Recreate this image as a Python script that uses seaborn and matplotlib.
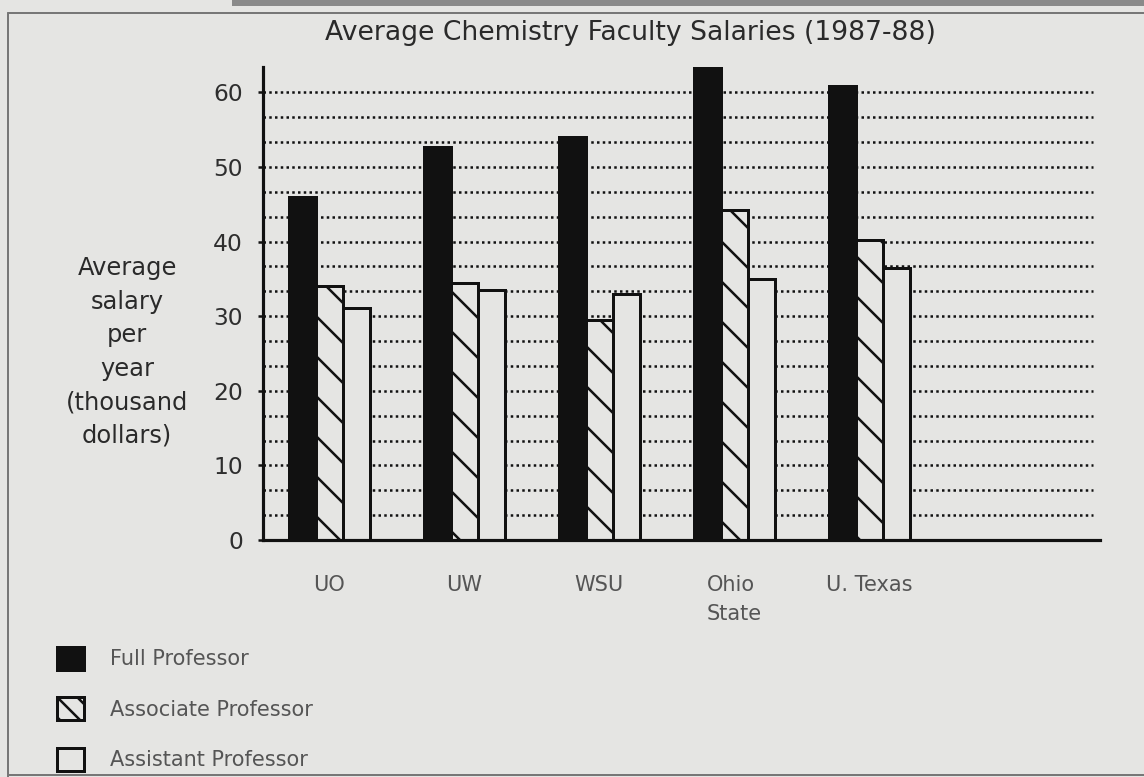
import numpy as np
import pandas as pd
import matplotlib
matplotlib.use("Agg")
import matplotlib.pyplot as plt
import seaborn as sns
from matplotlib.patches import Patch, Rectangle
from matplotlib.lines import Line2D

# ---------------- data ----------------
schools = ["UO", "UW", "WSU", "Ohio\nState", "U. Texas"]
ranks = ["Full Professor", "Associate Professor", "Assistant Professor"]
full_prof = [46.0, 52.7, 54.0, 63.2, 60.8]
assoc_prof = [34.0, 34.5, 29.5, 44.2, 40.2]
asst_prof = [31.1, 33.5, 33.0, 35.0, 36.4]
y_ticks = [0, 10, 20, 30, 40, 50, 60]
title = "Average Chemistry Faculty Salaries (1987-88)"
y_label = "Average\nsalary\nper\nyear\n(thousand\ndollars)"

df = pd.DataFrame({
    "school": schools * 3,
    "rank": [ranks[0]] * 5 + [ranks[1]] * 5 + [ranks[2]] * 5,
    "salary": full_prof + assoc_prof + asst_prof,
})

# ---------------- style ----------------
BG = "#e5e5e3"
INK = "#111111"
sns.set_theme(style="white")
plt.rcParams["font.family"] = ["DejaVu Sans"]
plt.rcParams["hatch.linewidth"] = 1.5
plt.rcParams["hatch.color"] = INK

W, H, DPI = 1144, 777, 120
fig = plt.figure(figsize=(W / DPI, H / DPI), dpi=DPI, facecolor=BG)
ax = fig.add_axes([263 / W, 1 - 540 / H, (1100 - 263) / W, (540 - 67) / H])
ax.set_facecolor(BG)

sns.barplot(data=df, x="school", y="salary", hue="rank", hue_order=ranks,
            order=schools, palette=[INK, BG, BG], saturation=1, width=0.6,
            edgecolor=INK, linewidth=1.8, legend=False, ax=ax, zorder=2)

for i, cont in enumerate(ax.containers):
    for p in cont.patches:
        if i == 1:
            p.set_hatch("\\")

# dotted gridlines every 10/3 units
grid_y = np.arange(1, 19) * 10 / 3
ax.hlines(grid_y, 0, 0.992, transform=ax.get_yaxis_transform(),
          colors=INK, linewidth=1.5, linestyles=(0, (1, 1.3)), zorder=1)

ax.set_ylim(0, 63.4)
ax.set_xlim(-0.49, 5.71)
ax.set_yticks(y_ticks)
ax.set_xlabel("")
ax.set_ylabel("")
for s in ["top", "right"]:
    ax.spines[s].set_visible(False)
for s in ["left", "bottom"]:
    ax.spines[s].set_color(INK)
    ax.spines[s].set_linewidth(1.9)
ax.tick_params(axis="y", length=3, width=1.5, color=INK, pad=9,
               labelsize=14, labelcolor="#2e2e2e", left=True)
ax.tick_params(axis="x", length=0, pad=21, labelsize=12.5, labelcolor="#555555")
for lab in ax.get_xticklabels():
    lab.set_multialignment("left")
    lab.set_linespacing(1.55)

# title and y label
fig.text(630 / W, 1 - 33 / H, title, ha="center", va="center",
         fontsize=16, color="#2a2a2a")
fig.text(127 / W, 1 - 352 / H, y_label, ha="center", va="center",
         multialignment="center", fontsize=14.5, color="#2a2a2a", linespacing=1.5)

# legend
handles = [
    Patch(facecolor=INK, edgecolor=INK, linewidth=1.8),
    Patch(facecolor=BG, edgecolor=INK, linewidth=1.8, hatch="\\\\"),
    Patch(facecolor=BG, edgecolor=INK, linewidth=1.8),
]
fig.legend(handles, ranks, loc="upper left", bbox_to_anchor=(57 / W, 1 - 647 / H),
           frameon=False, fontsize=12.5, labelcolor="#555555", borderpad=0,
           borderaxespad=0, handlelength=1.3, handleheight=1.3,
           handletextpad=1.25, labelspacing=1.33)

# page frame from the scanned page
fig.add_artist(Line2D([8 / W, 1], [1 - 13 / H, 1 - 13 / H], transform=fig.transFigure,
                      color="#777777", linewidth=1.2))
fig.add_artist(Line2D([8 / W, 8 / W], [0, 1 - 13 / H], transform=fig.transFigure,
                      color="#777777", linewidth=1.2))
fig.add_artist(Line2D([8 / W, 1], [1 - 775 / H, 1 - 775 / H], transform=fig.transFigure,
                      color="#777777", linewidth=1.2))
fig.add_artist(Rectangle((232 / W, 1 - 6 / H), 1 - 232 / W, 6 / H,
                         transform=fig.transFigure, color="#8a8a8a", linewidth=0))

fig.savefig("out.png", dpi=DPI, facecolor=BG)
